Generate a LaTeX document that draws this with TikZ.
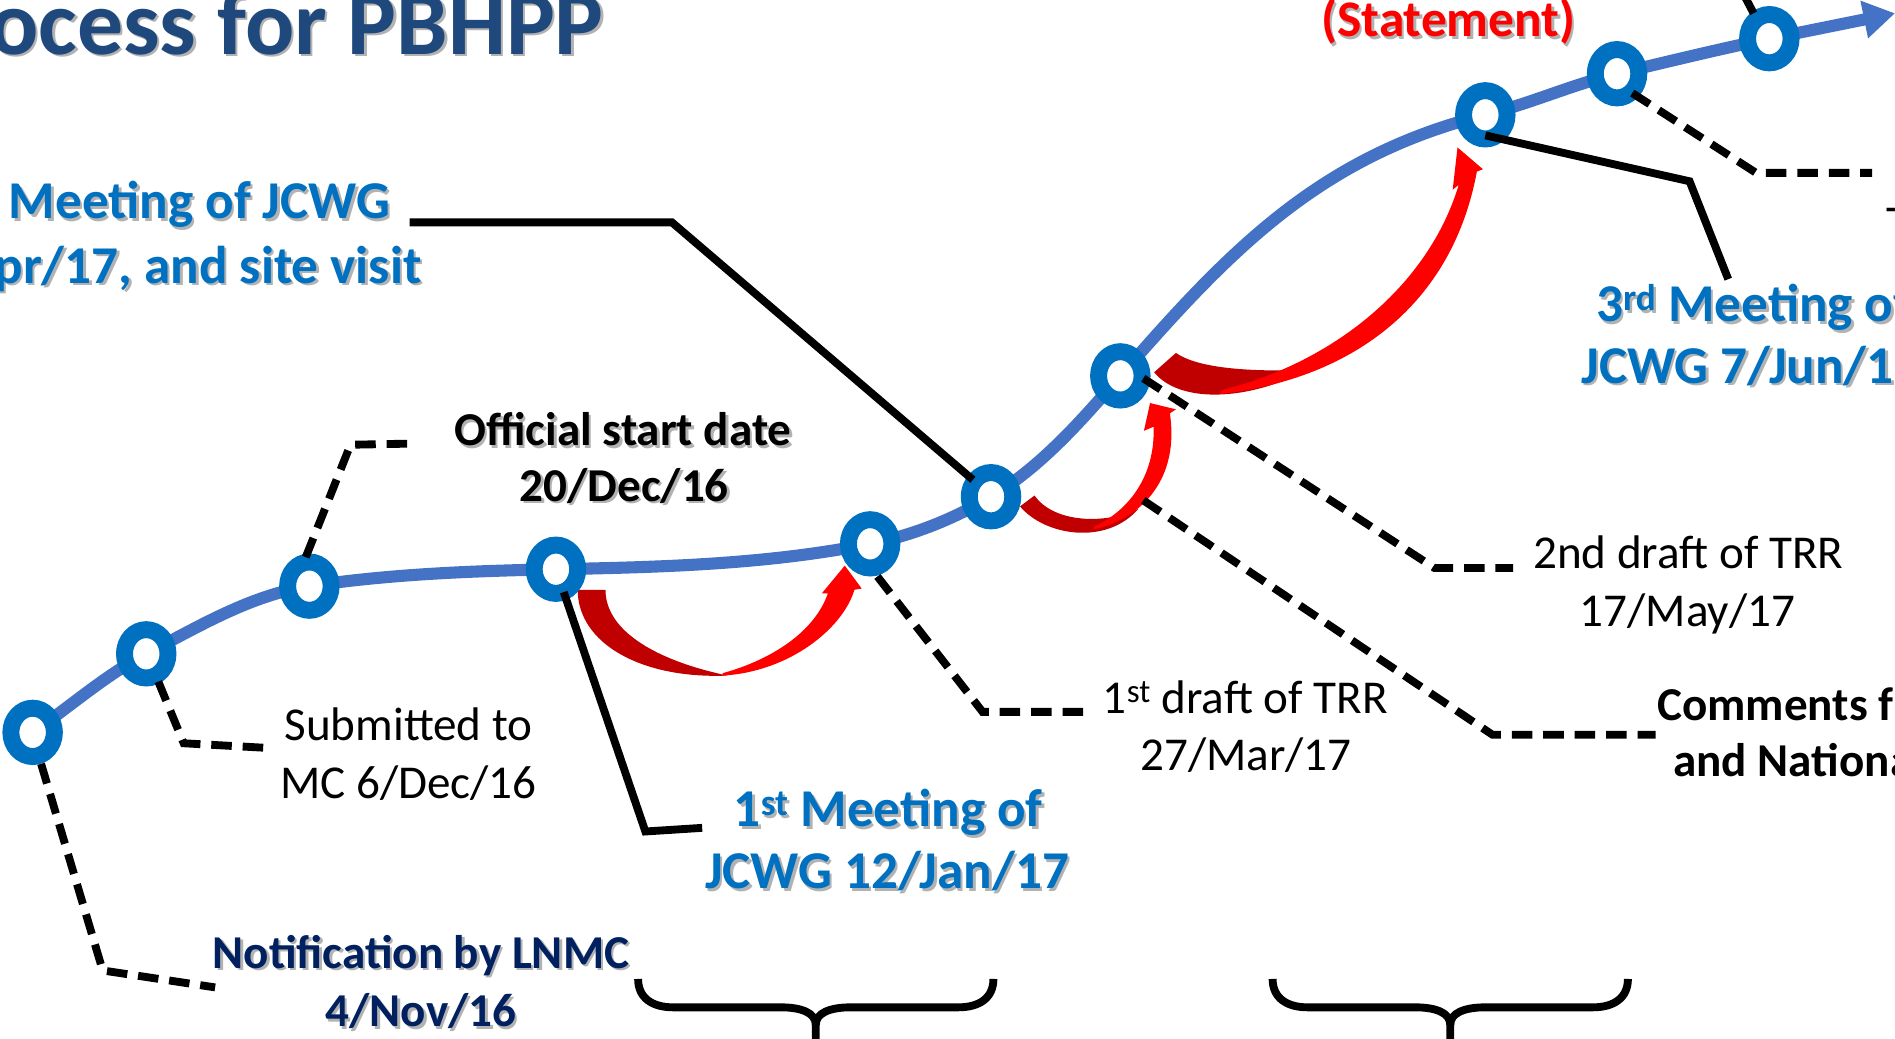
\documentclass[tikz,border=0pt]{standalone}
\usepackage{fontspec}
\setmainfont{Carlito}
\usetikzlibrary{arrows.meta,shapes.geometric}
\definecolor{ringblue}{HTML}{0070C0}
\definecolor{lineblue}{HTML}{4472C4}
\definecolor{titleblue}{HTML}{1F497D}
\definecolor{navyblue}{HTML}{002060}
\definecolor{darkred}{HTML}{C00000}
\definecolor{brightred}{HTML}{FF0000}
% name, position, anchor, style, text
\newcommand\shlabel[5]{%
  \node[#4,anchor=#3,text=black!30,xshift=2pt,yshift=-2pt] (#1-sh) at #2 {#5};
  \node[#4,anchor=#3] (#1) at #2 {#5};}
\begin{document}
\begin{tikzpicture}[x=1pt,y=-1pt,
  ring/.style={ellipse,draw=ringblue,fill=white,line width=14pt,minimum width=36pt,minimum height=40pt,inner sep=0pt},
  tb/.style={inner sep=0pt,font=\bfseries\fontsize{44}{53}\selectfont,text=ringblue},
  tr/.style={inner sep=0pt,font=\fontsize{39}{47}\selectfont,text=black},
  tk/.style={inner sep=0pt,font=\bfseries\fontsize{39}{47}\selectfont,text=black},
  tn/.style={inner sep=0pt,font=\bfseries\fontsize{39}{47}\selectfont,text=navyblue},
  dashline/.style={line width=6.5pt,dash pattern=on 17pt off 9pt},
  solidline/.style={line width=6.5pt},
  bracestyle/.style={line width=6.5pt,line join=round}
]
\useasboundingbox (0,0) rectangle (1568,859);

% centres of the milestones
\coordinate (p1) at (27,606);
\coordinate (p2) at (121,541);
\coordinate (p3) at (256,485);
\coordinate (p4) at (460,471);
\coordinate (p5) at (720,450);
\coordinate (p6) at (820,411);
\coordinate (p7) at (927,311);
\coordinate (p8) at (1229,95);
\coordinate (p9) at (1338,61);
\coordinate (p10) at (1464,32);
\coordinate (tipend) at (1568,11);

% timeline curve
\draw[lineblue,line width=10pt,-{Triangle[length=26pt,width=30pt]}]
  (p1) .. controls (58.4,584.4) and (87.2,558.6) .. (p2)
  .. controls (164.2,518.5) and (207.8,492.2) .. (p3)
  .. controls (323.4,474.9) and (391.8,472.4) .. (p4)
  .. controls (546.9,469.3) and (634.8,467) .. (p5)
  .. controls (755.1,443) and (789.3,429.4) .. (p6)
  .. controls (861.8,385.9) and (895,347.8) .. (p7)
  .. controls (1018.8,205.3) and (1093.2,129) .. (p8)
  .. controls (1265.9,85.8) and (1301.1,69.9) .. (p9)
  .. controls (1379.9,51) and (1421.8,40.8) .. (p10)
  -- (tipend);

% red curved arrows
\fill[darkred] (478,488) .. controls (478,532) and (530,562) .. (602,559)
  .. controls (545,547) and (501,523) .. (501,488) -- cycle;
\fill[brightred] (598,559) .. controls (652,556) and (697,521) .. (707,488)
  -- (713,487) -- (699,468) -- (680,491) -- (685,491)
  .. controls (674,523) and (638,546) .. (598,557) -- cycle;

\fill[darkred] (844,419) .. controls (864,443) and (915,452) .. (942,421)
  .. controls (915,434) and (872,433) .. (856,410) -- cycle;
\fill[brightred] (905,438) .. controls (946,429) and (976,395) .. (968,342)
  -- (973,338.7) -- (951.6,333.5) -- (946.5,356.5) -- (954.5,353.1)
  .. controls (956,395) and (933,423) .. (905,436) -- cycle;

\fill[darkred] (955,308) .. controls (975,333) and (1030,333) .. (1082,306)
  .. controls (1030,308) and (990,304) .. (973,292) -- cycle;
\fill[brightred] (1010,326) .. controls (1122,313) and (1202,250) .. (1222,142)
  -- (1227,140) -- (1206,122) -- (1202,157) -- (1207,153)
  .. controls (1182,236) and (1104,300) .. (1010,323) -- cycle;

% milestone rings
\foreach \i in {1,...,10} { \node[ring] (c\i) at (p\i) {}; }

% free ends of the connectors
\coordinate (e1) at (178,817);
\coordinate (e2) at (224,619);
\coordinate (e3) at (343,367);
\coordinate (e4) at (581,685);
\coordinate (e5) at (905,589);
\coordinate (e6) at (339,184);
\coordinate (e7) at (1252,470);
\coordinate (e8) at (1430,231);
\coordinate (e9) at (1549,143);
\coordinate (e10) at (1440,-10);
\coordinate (a2) at (946,414);
\coordinate (e11) at (1370,608);

% connectors
\draw[dashline] ([xshift=7pt,yshift=-26pt]c1.center) -- (85,803) -- (e1);
\draw[dashline] ([xshift=10pt,yshift=-23pt]c2.center) -- (152,615) -- (e2);
\draw[dashline] ([xshift=-3pt,yshift=24pt]c3.center) -- (290,368) -- (e3);
\draw[solidline,shorten <=20pt] (c4.center) -- (534,688) -- (e4);
\draw[dashline] ([xshift=6pt,yshift=-27pt]c5.center) -- (813,589) -- (e5);
\draw[solidline] (e6) -- (556,184) -- ([xshift=-15pt,yshift=14pt]c6.center);
\draw[dashline] ([xshift=19pt,yshift=-2pt]c7.center) -- (1187,470) -- (e7);
\draw[dashline] (a2) -- (1235,608) -- (e11);
\draw[solidline] ([yshift=-17pt]c8.center) -- (1398,150) -- (e8);
\draw[dashline] ([xshift=12.6pt,yshift=-16pt]c9.center) -- (1453,143) -- (e9);
\draw[solidline] ([xshift=-13pt,yshift=21pt]c10.center) -- (e10);

% braces
\draw[bracestyle] (528,810) .. controls (528,826) and (540,833.5) .. (557,833.5) -- (646,833.5)
  .. controls (663,833.5) and (675,838) .. (675,848) -- (675,870);
\draw[bracestyle] (822,810) .. controls (822,826) and (810,833.5) .. (793,833.5) -- (704,833.5)
  .. controls (687,833.5) and (675,838) .. (675,848);
\begin{scope}[xshift=525pt]
\draw[bracestyle] (528,810) .. controls (528,826) and (540,833.5) .. (557,833.5) -- (646,833.5)
  .. controls (663,833.5) and (675,838) .. (675,848) -- (675,870);
\draw[bracestyle] (822,810) .. controls (822,826) and (810,833.5) .. (793,833.5) -- (704,833.5)
  .. controls (687,833.5) and (675,838) .. (675,848);
\end{scope}

% texts
\shlabel{title}{(500,45)}{base east}{inner sep=0pt,font=\bfseries\fontsize{76}{80}\selectfont,text=titleblue}{Process for PBHPP}
\shlabel{stmt}{(1198.4,30.3)}{base}{inner sep=0pt,font=\bfseries\fontsize{42.5}{48}\selectfont,text=brightred}{(Statement)}

\shlabel{mtwoa}{(323,181)}{base east}{tb}{2\textsuperscript{nd} Meeting of JCWG}
\shlabel{mtwob}{(349,234.5)}{base east}{tb}{Apr/17, and site visit}
\shlabel{monea}{(735,684)}{base}{tb}{1\textsuperscript{st} Meeting of}
\shlabel{moneb}{(734,735.5)}{base}{tb}{JCWG 12/Jan/17}
\shlabel{mthreea}{(1320.5,266.2)}{base west}{tb}{3\textsuperscript{rd} Meeting of}
\shlabel{mthreeb}{(1308.4,317.2)}{base west}{tb}{JCWG 7/Jun/17}

\shlabel{offa}{(515.5,369)}{base}{tk}{Official start date}
\shlabel{offb}{(516.5,415)}{base}{tk}{20/Dec/16}
\shlabel{nota}{(348.3,801.3)}{base}{tn}{Notification by LNMC}
\shlabel{notb}{(348.3,849.5)}{base}{tn}{4/Nov/16}

\node[tk,anchor=base west] (cma) at (1371,596) {Comments from};
\node[tk,anchor=base west] (cmb) at (1384.4,642.7) {and National};

\node[tr,anchor=base] (suba) at (338,613) {Submitted to};
\node[tr,anchor=base] (subb) at (338,661) {MC 6/Dec/16};
\node[tr,anchor=base] (dra) at (1030.5,590) {1\textsuperscript{st} draft of TRR};
\node[tr,anchor=base] (drb) at (1031,637.7) {27/Mar/17};
\node[tr,anchor=base] (drc) at (1397,470.3) {2nd draft of TRR};
\node[tr,anchor=base] (drd) at (1396.3,518.6) {17/May/17};
\node[tr,anchor=base west] (tcut) at (1561,197.5) {T};
\end{tikzpicture}
\end{document}
